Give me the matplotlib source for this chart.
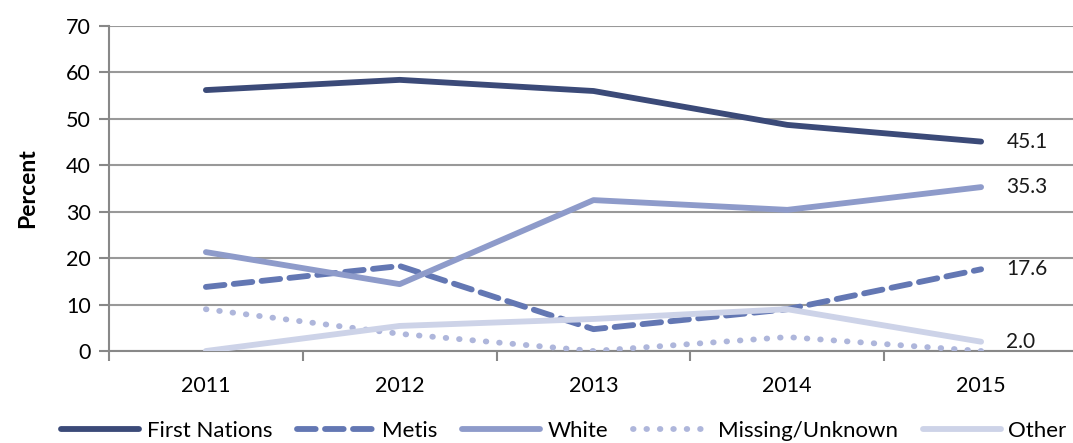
import matplotlib
matplotlib.use("Agg")
import matplotlib.pyplot as plt
from matplotlib.lines import Line2D

years = ["2011", "2012", "2013", "2014", "2015"]
first_nations = [56.2, 58.4, 56.0, 48.7, 45.1]
metis = [13.8, 18.3, 4.7, 9.0, 17.6]
white = [21.3, 14.4, 32.5, 30.4, 35.3]
missing = [9.0, 3.7, 0.0, 3.0, 0.0]
other = [0.0, 5.4, 6.9, 9.0, 2.0]
end_labels = {"First Nations": "45.1", "White": "35.3", "Metis": "17.6", "Other": "2.0"}

plt.rcParams['font.family'] = ['Lato', 'DejaVu Sans']

W, H = 1073, 443
fig = plt.figure(figsize=(W / 100, H / 100), dpi=100)
left, right, bottom, top = 109, 1078, 351, 26
ax = fig.add_axes([left / W, 1 - bottom / H, (right - left) / W, (bottom - top) / H])

x = list(range(len(years)))
series = [
    ("First Nations", first_nations, "#3B4A78", (0, ())),
    ("Metis", metis, "#6377B3", (0, (3.2, 1.6))),
    ("White", white, "#8E9BCA", (0, ())),
    ("Missing/Unknown", missing, "#AEB6DB", (0, (0.1, 2.2))),
    ("Other", other, "#CDD3E8", (0, ())),
]
handles = []
for name, vals, col, dash in series:
    kw = dict(color=col, lw=4.2, solid_capstyle="round", dash_capstyle="round",
              linestyle=dash if dash[1] else "-")
    ax.plot(x, vals, zorder=3, **kw)
    handles.append(Line2D([0], [0], **kw))
    if name in end_labels:
        ax.text(x[-1] + 0.13, vals[-1], end_labels[name], va="center", ha="left",
                fontsize=15, color="#1a1a1a")

ax.set_xlim(-0.5, len(years) - 0.5)
ax.set_ylim(0, 70)
ax.set_yticks(range(0, 71, 10))
ax.set_xticks(x)
ax.set_xticklabels(years)
ax.set_xticks([i - 0.5 for i in range(len(years) + 1)], minor=True)
ax.tick_params(axis="x", which="major", length=0, pad=18, labelsize=15.5)
ax.tick_params(axis="x", which="minor", length=7, width=1.5, color="#888888")
ax.tick_params(axis="y", length=7, width=1.5, color="#888888", labelsize=15.5, pad=6)
ax.grid(axis="y", color="#999999", lw=1.5, zorder=0)
for s in ["top", "right"]:
    ax.spines[s].set_visible(False)
for s in ["left", "bottom"]:
    ax.spines[s].set_color("#888888")
    ax.spines[s].set_linewidth(1.5)
ax.set_ylabel("Percent", fontsize=16.5, fontweight="bold", labelpad=20)

fig.legend(handles, [s[0] for s in series], loc="center", bbox_to_anchor=(564 / W, 1 - 431 / H),
           ncol=5, frameon=False, fontsize=16, handlelength=3.5, handletextpad=0.35,
           columnspacing=1.1, borderaxespad=0, borderpad=0)

fig.savefig("out.png", dpi=100)
